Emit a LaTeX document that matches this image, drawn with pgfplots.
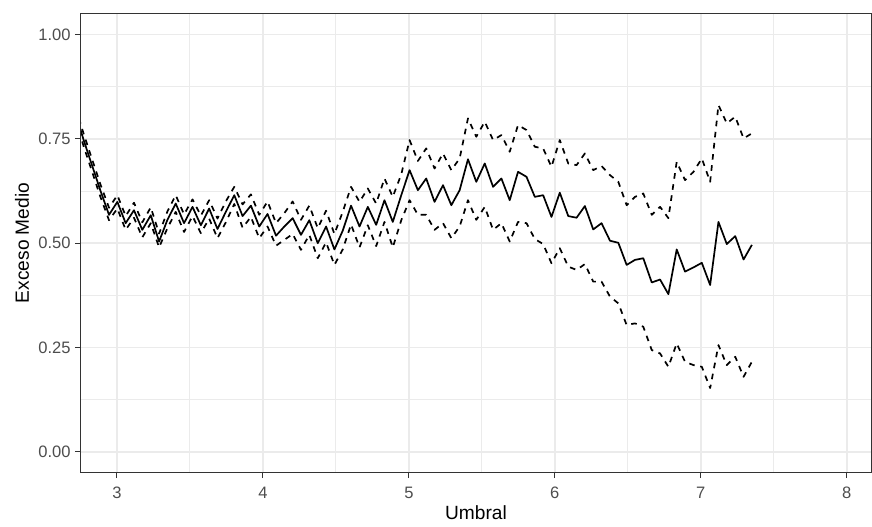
\documentclass[border=0pt]{standalone}
\usepackage{fontspec}
\setmainfont{Liberation Sans}
\usepackage{pgfplots}
\usepackage{pgfplotstable}
\pgfplotsset{compat=1.18}
\definecolor{gridmaj}{HTML}{EBEBEB}
\definecolor{panelborder}{HTML}{333333}
\definecolor{ticktext}{HTML}{4D4D4D}

% x: umbral, s: exceso medio, u/l: banda superior/inferior
\pgfplotstableread{
x     s     u     l
2.717 0.810 0.825 0.795
2.774 0.745 0.760 0.730
2.831 0.685 0.700 0.670
2.888 0.625 0.640 0.610
2.946 0.568 0.585 0.555
3.003 0.599 0.615 0.583
3.060 0.548 0.565 0.532
3.117 0.579 0.597 0.561
3.174 0.532 0.550 0.514
3.232 0.567 0.586 0.548
3.289 0.504 0.523 0.490
3.346 0.556 0.576 0.536
3.403 0.595 0.615 0.575
3.460 0.548 0.569 0.527
3.518 0.587 0.605 0.565
3.575 0.543 0.566 0.524
3.632 0.583 0.603 0.559
3.689 0.534 0.559 0.512
3.746 0.575 0.600 0.550
3.804 0.615 0.635 0.594
3.861 0.565 0.593 0.537
3.918 0.590 0.617 0.563
3.975 0.540 0.568 0.512
4.032 0.570 0.600 0.540
4.090 0.518 0.548 0.494
4.147 0.540 0.572 0.508
4.204 0.560 0.600 0.522
4.261 0.520 0.556 0.484
4.318 0.555 0.590 0.520
4.376 0.500 0.536 0.464
4.433 0.540 0.578 0.502
4.490 0.485 0.522 0.448
4.547 0.530 0.575 0.485
4.604 0.590 0.635 0.545
4.662 0.540 0.599 0.490
4.719 0.587 0.631 0.543
4.776 0.544 0.595 0.493
4.833 0.603 0.655 0.551
4.890 0.551 0.611 0.490
4.948 0.615 0.665 0.555
5.005 0.675 0.747 0.603
5.062 0.627 0.697 0.568
5.119 0.655 0.727 0.568
5.176 0.599 0.679 0.532
5.234 0.639 0.715 0.548
5.291 0.591 0.675 0.512
5.348 0.627 0.703 0.540
5.405 0.701 0.799 0.603
5.462 0.647 0.755 0.556
5.520 0.691 0.791 0.587
5.577 0.635 0.747 0.532
5.634 0.655 0.759 0.548
5.691 0.603 0.719 0.504
5.748 0.671 0.783 0.551
5.806 0.659 0.771 0.548
5.863 0.611 0.731 0.510
5.920 0.615 0.727 0.498
5.977 0.563 0.683 0.452
6.034 0.621 0.747 0.488
6.092 0.565 0.691 0.444
6.149 0.561 0.687 0.436
6.206 0.589 0.715 0.450
6.263 0.533 0.675 0.408
6.320 0.548 0.685 0.408
6.378 0.506 0.663 0.372
6.435 0.501 0.647 0.356
6.492 0.448 0.591 0.304
6.549 0.460 0.611 0.308
6.606 0.464 0.619 0.300
6.664 0.406 0.568 0.244
6.721 0.413 0.587 0.236
6.778 0.378 0.560 0.204
6.835 0.485 0.695 0.260
6.892 0.432 0.651 0.216
6.950 0.442 0.671 0.208
7.007 0.453 0.703 0.204
7.064 0.400 0.647 0.153
7.121 0.551 0.831 0.256
7.178 0.498 0.787 0.208
7.236 0.517 0.803 0.228
7.293 0.461 0.751 0.180
7.350 0.496 0.763 0.216
}\exceso

\begin{document}
\begin{tikzpicture}
\begin{axis}[
  scale only axis, width=395bp, height=229bp,
  xmin=2.754, xmax=8.166, ymin=-0.048, ymax=1.049,
  xtick={3,4,5,6,7,8}, ytick={0,0.25,0.5,0.75,1},
  minor xtick={3.5,4.5,5.5,6.5,7.5},
  minor ytick={0.125,0.375,0.625,0.875},
  grid=both,
  major grid style={gridmaj, line width=0.8bp},
  minor grid style={gridmaj, line width=0.45bp},
  axis line style={panelborder, line width=0.5bp},
  tick align=outside, major tick length=3bp, minor tick length=0pt,
  tick style={panelborder, line width=0.5bp},
  xtick pos=bottom, ytick pos=left,
  /pgf/number format/assume math mode=true,
  yticklabel style={/pgf/number format/fixed, /pgf/number format/fixed zerofill,
    /pgf/number format/precision=2},
  ticklabel style={font=\fontsize{8.3}{9.5}\selectfont, text=ticktext},
  xticklabel style={anchor=north, inner sep=0pt, yshift=-4.4bp},
  yticklabel style={anchor=east, inner sep=0pt, xshift=-2bp},
  xlabel={Umbral}, ylabel={Exceso Medio},
  label style={font=\fontsize{9.6}{11}\selectfont},
  xlabel style={at={(axis description cs:0.5,0)}, anchor=north, inner sep=0pt, yshift=-16.5bp},
  ylabel style={at={([xshift=-29.5bp]axis description cs:0,0.5)}, anchor=center, inner sep=0pt},
]
\addplot[black, line width=0.85bp, line join=round] table[x=x, y=s]{\exceso};
\addplot[black, line width=0.85bp, line join=round, dash pattern=on 2.8bp off 2.8bp] table[x=x, y=u]{\exceso};
\addplot[black, line width=0.85bp, line join=round, dash pattern=on 2.8bp off 2.8bp] table[x=x, y=l]{\exceso};
\end{axis}
\pgfresetboundingbox
\path[use as bounding box] (-40.5bp,-27.5bp) rectangle (395.5bp,236bp);
\end{tikzpicture}
\end{document}
